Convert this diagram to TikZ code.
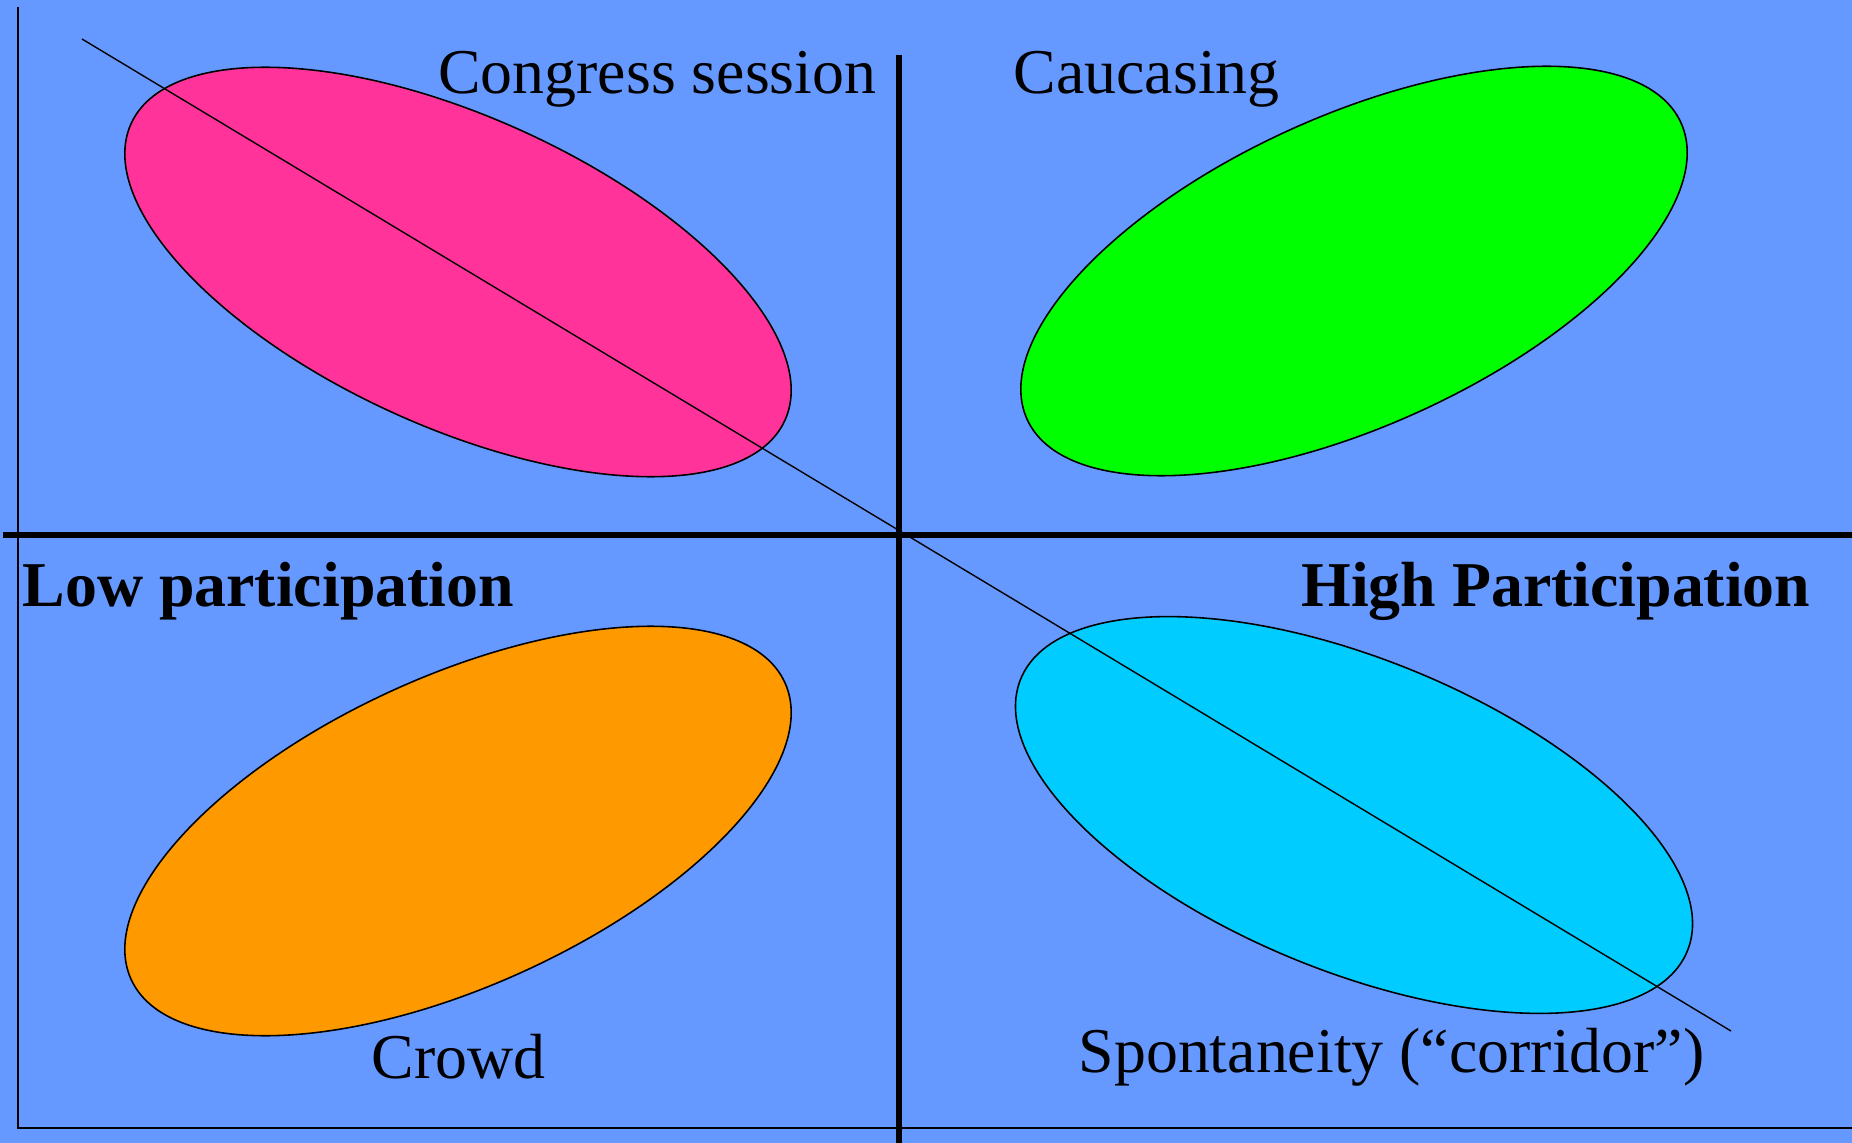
\documentclass[tikz,border=0pt]{standalone}
\usepackage{fontspec}
\setmainfont{Liberation Serif}
\usetikzlibrary{calc}
\definecolor{bgblue}{HTML}{6699FF}
\definecolor{sessfill}{HTML}{FF3399}
\definecolor{caucfill}{HTML}{00FF00}
\definecolor{crowdfill}{HTML}{FF9900}
\definecolor{spontfill}{HTML}{00CCFF}
\tikzset{
  blob/.style={draw=black, line width=0.45pt},
  axis/.style={draw=black, line width=1.7pt},
  thinline/.style={draw=black, line width=0.4pt},
  lbl/.style={inner sep=0pt, font=\fontsize{18.15}{22}\selectfont},
  boldlbl/.style={inner sep=0pt, font=\fontsize{18.15}{22}\selectfont\bfseries},
}

\begin{document}
\begin{tikzpicture}[x=0.01cm, y=-0.01cm]
  \fill[bgblue] (0,0) rectangle (1852,1143);
  \useasboundingbox (0,0) rectangle (1852,1143);
  % frame
  \draw[thinline] (18,7) -- (18,1128) -- (1852,1128);
  % four groups
  \filldraw[blob, fill=sessfill, rotate around={-24.4:(458,272)}] (458,272) ellipse [x radius=359, y radius=155];
  \filldraw[blob, fill=caucfill, rotate around={24.4:(1354,271)}] (1354,271) ellipse [x radius=359, y radius=155];
  \filldraw[blob, fill=crowdfill, rotate around={24.4:(458,831)}] (458,831) ellipse [x radius=359, y radius=155];
  \filldraw[blob, fill=spontfill, rotate around={-22.2:(1354,815)}] (1354,815) ellipse [x radius=360, y radius=156];
  % axes
  \coordinate (diagA) at (82,39);
  \coordinate (diagB) at (1731,1031);
  \draw[thinline] (diagA) -- (diagB);
  \draw[axis] (3,535) -- (1852,535);
  \draw[axis] (899,55) -- (899,1143);
  % labels
  \node[lbl, anchor=base east] (cong) at (877,94) {Congress session};
  \node[lbl, anchor=base west] (cauc) at (1013,94) {Caucasing};
  \node[boldlbl, anchor=base west] (low) at (22,606) {Low participation};
  \node[boldlbl, anchor=base east] (high) at (1811,606) {High Participation};
  \node[lbl, anchor=base west] (crowd) at (371,1078) {Crowd};
  \node[lbl, anchor=base west] (spont) at (1078,1072) {Spontaneity (``corridor'')};
\end{tikzpicture}
\end{document}
